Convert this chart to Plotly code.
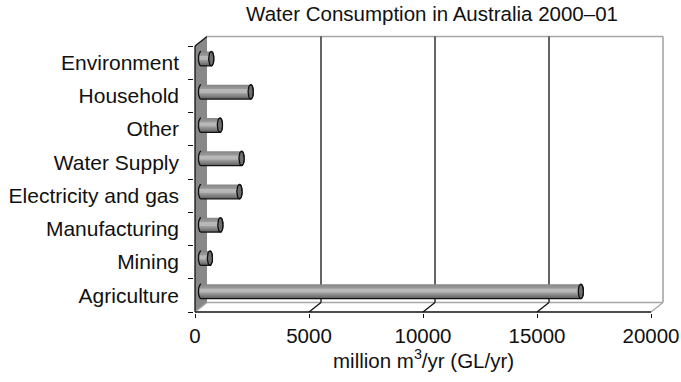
import numpy as np
import plotly.graph_objects as go

# ---- data -------------------------------------------------------------
categories = ["Agriculture", "Mining", "Manufacturing", "Electricity and gas",
              "Water Supply", "Other", "Household", "Environment"]
consumption = [16660, 390, 850, 1688, 1780, 830, 2181, 450]   # GL/yr
x_ticks = [0, 5000, 10000, 15000, 20000]
x_tick_labels = ["0", "5000", "10000", "15000", "20000"]
x_max = 20000

title_text = "Water Consumption in Australia 2000–01"
x_title = "million m<sup>3</sup>/yr (GL/yr)"

# ---- geometry of the pseudo-3D box (pixels) ----------------------------
W, H = 681, 382
FX0, FX1 = 195, 651          # front face: value 0 .. x_max
FY_BOT, FY_TOP = 312, 46     # front face: bottom .. top of category band
n = len(categories)
PX = (FX1 - FX0) / x_max     # px per unit value
PY = (FY_BOT - FY_TOP) / n   # px per category
DEPTH_X, DEPTH_Y = 12, 9.5   # back plane shifted right / up

L, R, T, B = 194, 665, 35, 313   # plot area edges
x_range = [(L - FX0) / PX, (R - FX0) / PX]
y_range = [-0.5 - (B - FY_BOT) / PY, n - 0.5 + (FY_TOP - T) / PY]


def dx(px):
    return px / PX


def dy(px):
    return px / PY


y_lo, y_hi = -0.5, n - 0.5
bx, by = dx(DEPTH_X), dy(DEPTH_Y)

FONT = "Liberation Sans, Arial, Helvetica, sans-serif"
BLACK = "#111111"
EDGE_GREY = "#a6a6a6"

shapes = []


def seg(x0, y0, x1, y1, color=BLACK, width=1.3):
    shapes.append(dict(type="line", xref="x", yref="y", x0=x0, y0=y0,
                       x1=x1, y1=y1, layer="below",
                       line=dict(color=color, width=width)))


# left wall
shapes.append(dict(type="path", xref="x", yref="y", layer="below",
                   path=f"M 0,{y_lo} L 0,{y_hi} L {bx},{y_hi + by} L {bx},{y_lo + by} Z",
                   fillcolor="#888888", line=dict(width=0)))
seg(0, y_lo, 0, y_hi)                         # front edge of wall
seg(0, y_hi, bx, y_hi + by)                   # top of wall
seg(0, y_lo, bx, y_lo + by, color=EDGE_GREY)  # wall meets floor

# back wall outline
seg(bx, y_hi + by, x_max + bx, y_hi + by, color=EDGE_GREY, width=1.6)
seg(x_max + bx, y_hi + by, x_max + bx, y_lo + by, color=EDGE_GREY, width=1.6)

# floor
seg(bx, y_lo + by, x_max + bx, y_lo + by, color=EDGE_GREY, width=1.6)
seg(x_max, y_lo, x_max + bx, y_lo + by, color=EDGE_GREY, width=1.3)
seg(0, y_lo, x_max, y_lo)

# gridlines on the back wall plus their floor projections
for v in x_ticks[1:-1]:
    seg(v + bx, y_lo + by, v + bx, y_hi + by)
    seg(v, y_lo, v + bx, y_lo + by)

# ---- cylinders ---------------------------------------------------------
body_scale = [[0.0, "#5c5c5c"], [0.18, "#7c7c7c"], [0.38, "#9c9c9c"],
              [0.45, "#b6b6b6"], [0.66, "#bababa"], [0.72, "#9a9a9a"],
              [1.0, "#858585"]]

fig = go.Figure()
for i, v in enumerate(consumption):
    yc = i + dy(4)
    x0 = dx(6)
    x1 = v + dx(6)
    r = dy(7.2)
    a = dx(2.6)
    t_r = np.linspace(np.pi / 2, -np.pi / 2, 31)
    t_l = np.linspace(-np.pi / 2, -3 * np.pi / 2, 31)
    xs = np.concatenate([x1 + a * np.cos(t_r), x0 + a * np.cos(t_l)])
    ys = np.concatenate([yc + r * np.sin(t_r), yc + r * np.sin(t_l)])
    fig.add_trace(go.Scatter(
        x=xs, y=ys, mode="lines", fill="toself",
        fillgradient=dict(type="vertical", colorscale=body_scale),
        line=dict(color=BLACK, width=1.3), hoverinfo="skip", showlegend=False))
    t = np.linspace(0, 2 * np.pi, 41)
    fig.add_trace(go.Scatter(
        x=x1 + a * np.cos(t), y=yc + r * np.sin(t), mode="lines", fill="toself",
        fillcolor="#6e6e6e", line=dict(color=BLACK, width=1.3),
        hoverinfo="skip", showlegend=False))

fig.update_layout(
    width=W, height=H,
    margin=dict(l=L, r=W - R, t=T, b=H - B, autoexpand=False),
    paper_bgcolor="white", plot_bgcolor="white",
    font=dict(family=FONT, size=20, color=BLACK),
    shapes=shapes,
    title=dict(text=title_text, xref="container", yref="container",
               x=432 / W, y=1 - 13.5 / H, xanchor="center", yanchor="middle",
               font=dict(family=FONT, size=20.5, color=BLACK)),
    annotations=[dict(text=x_title, xref="x", yref="paper",
                      x=x_max / 2, y=-(359 - B) / (B - T),
                      xanchor="center", yanchor="middle", showarrow=False,
                      font=dict(family=FONT, size=20.5, color=BLACK))],
    showlegend=False,
)
fig.update_xaxes(range=x_range, tickvals=x_ticks, ticktext=x_tick_labels,
                 ticks="outside", ticklen=4,
                 tickcolor=BLACK, tickwidth=1.3, showgrid=False, zeroline=False,
                 showline=False, tickfont=dict(size=20.5), fixedrange=True)
fig.update_yaxes(range=y_range, tickvals=list(range(n)), ticktext=categories,
                 ticks="", showgrid=False, zeroline=False, showline=False,
                 ticklabelstandoff=14, tickfont=dict(size=21), fixedrange=True,
                 minor=dict(tickvals=[k - 0.5 for k in range(n + 1)],
                            ticks="outside", ticklen=5, tickcolor=BLACK,
                            tickwidth=1.3, showgrid=False))

fig.write_html("out.html")
